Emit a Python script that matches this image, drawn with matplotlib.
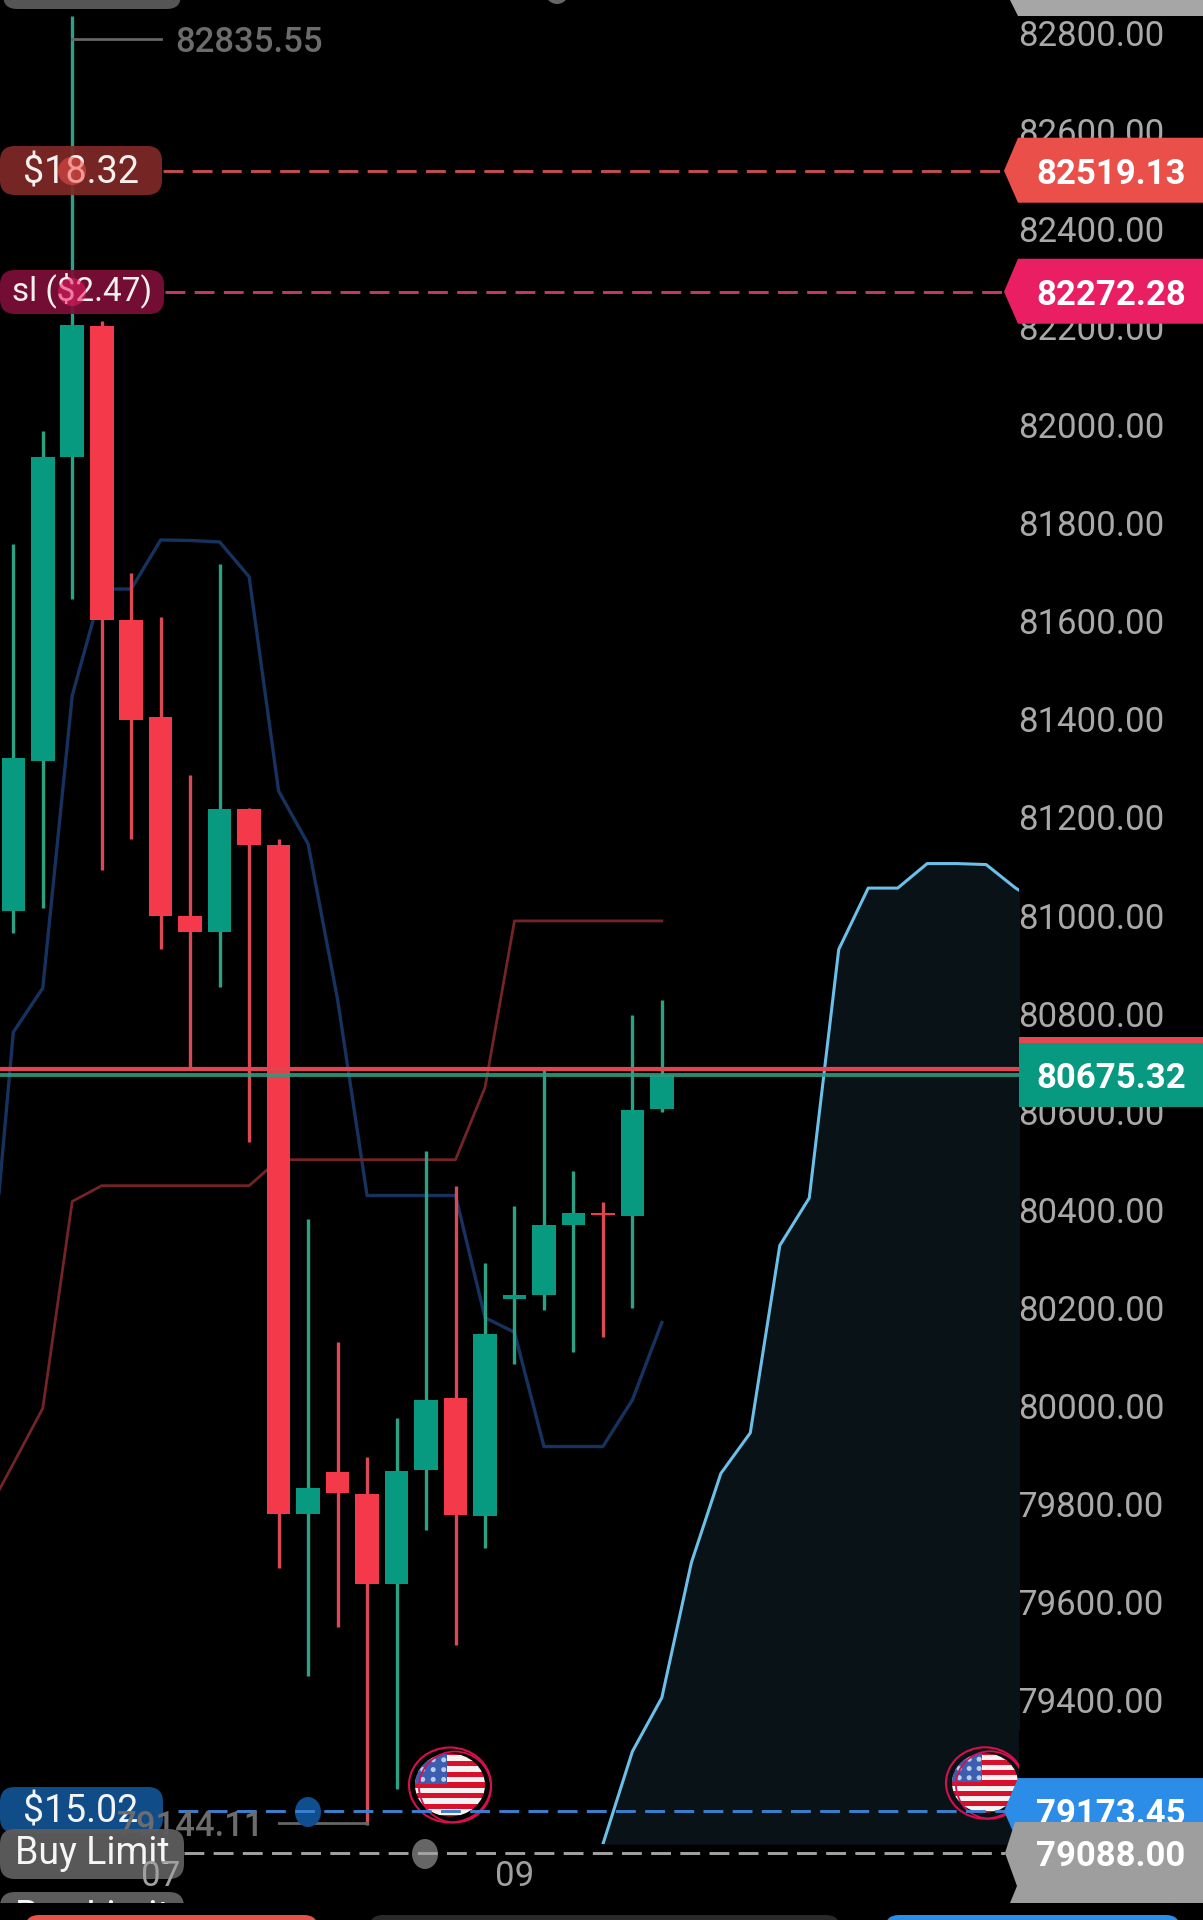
#!/usr/bin/env python3
import matplotlib
matplotlib.use('Agg')
import matplotlib.pyplot as plt
from matplotlib.patches import Ellipse, FancyBboxPatch, Polygon, Rectangle
from matplotlib.transforms import Affine2D

plt.rcParams['font.family'] = ['Roboto', 'DejaVu Sans']

W, H = 1203, 1920

### Candles
opens  = [81010, 81315, 81936, 82203, 81602, 81405, 80999, 80966, 81218, 81143, 79780, 79865,
          79820, 79637, 79870, 80015, 79775, 80218, 80227, 80369, 80393, 80387, 80605]
highs  = [81758, 81988, 82835.55, 82212, 81698, 81609, 81287, 81716, 81220, 81156, 80382, 80130,
          79895, 79975, 80519, 80449, 80292, 80407, 80692, 80478, 80416, 80798, 80827]
lows   = [80965, 81015, 81646, 81092, 81156, 80932, 80688, 80855, 80539, 79670, 79450, 79548,
          79144.11, 79218, 79747, 79513, 79710, 80085, 80195, 80110, 80140, 80200, 80599]
closes = [81321, 81936, 82205, 81602, 81399, 80999, 80966, 81218, 81143, 79780, 79832, 79822,
          79637, 79867, 80012, 79777, 80147, 80226, 80369, 80394, 80389, 80604, 80675]

### Indicator lines
band_idx   = list(range(-1, 23))
band_blue  = [80085, 80762, 80852, 81449, 81666, 81666, 81766, 81765, 81762, 81691, 81254, 81146,
              80829, 80429, 80429, 80429, 80429, 80180, 80150, 79917, 79917, 79917, 80012, 80170]
band_red   = [79770, 79882, 79995, 80417, 80449, 80449, 80449, 80449, 80449, 80449, 80502, 80502,
              80502, 80502, 80502, 80502, 80502, 80649, 80989, 80989, 80989, 80989, 80989, 80989]
cloud_idx  = list(range(20, 36))
cloud_top  = [79106, 79295, 79405, 79680, 79862, 79945, 80327, 80424, 80931, 81056, 81056, 81106,
              81106, 81104, 81056, 81020]

### Axis and levels
y_ticks    = [82800, 82600, 82400, 82200, 82000, 81800, 81600, 81400, 81200, 81000, 80800, 80600,
              80400, 80200, 80000, 79800, 79600, 79400]
x_ticks    = [5, 17]
x_labels   = ['07', '09']
tp_price   = 82519.13
sl_price   = 82272.28
bid_price  = 80675.32
ask_price  = 80687
tp2_price  = 79173.45
limit_price = 79088.00
high_price = 82835.55
low_price  = 79144.11

GREEN, RED = '#089981', '#f4394a'
GREEN_W, RED_W = '#2aa284', '#d94a55'
STEP = 29.48


fig = plt.figure(figsize=(W / 100, H / 100), dpi=100, facecolor='black')
ax = fig.add_axes([0, 0, 1, 1], facecolor='black')

# STEP px between candles, first one at x=13.3 ; 0.4903 px per price unit, 82800 at y=33
ax.set_xlim(-13.3 / STEP, (W - 13.3) / STEP)
ax.set_ylim(82800 - (H - 33) / 0.4903, 82800 + 33 / 0.4903)
ax.set_axisbelow(True)
for s in ax.spines.values():
    s.set_visible(False)

# pixel coordinates of the picture, y going down
px = Affine2D().scale(1, -1).translate(0, H)


def py(price):
    return H - ax.transData.transform((0, price))[1]


ax.yaxis.tick_right()
ax.set_yticks(y_ticks)
ax.set_yticklabels(['%.2f' % v for v in y_ticks])
ax.tick_params(axis='y', length=0, pad=-(W - 1018) * 0.72, labelcolor='#a9a9a9', labelsize=25)
for lab in ax.get_yticklabels():
    lab.set_ha('left')
ax.set_xticks([])

### Cloud
pane = Rectangle((ax.get_xlim()[0], 79106), 1019 / STEP, 4000, transform=ax.transData)
fill = ax.fill_between(cloud_idx, 79106, cloud_top, color='#091217', lw=0, zorder=1)
fill.set_clip_path(pane)
cl, = ax.plot(cloud_idx, cloud_top, color='#6cbfe8', lw=2.2, zorder=1.2)
cl.set_clip_path(pane)

### Bands
ax.plot(band_idx, band_blue, color='#16335f', lw=2.4, zorder=1.5)
ax.plot(band_idx, band_red, color='#742426', lw=2.0, zorder=1.5)

### Candles
for i in range(len(opens)):
    up = closes[i] >= opens[i]
    ax.vlines(i, lows[i], highs[i], color=GREEN_W if up else RED_W, lw=2.4, zorder=2)
    ax.bar(i, abs(closes[i] - opens[i]), bottom=min(opens[i], closes[i]), width=0.8,
           color=GREEN if up else RED, lw=0, zorder=2.1)

### Last price lines
ax.axhline(ask_price, xmax=1019 / W, color='#e0444f', lw=3.0, zorder=2.4)
ax.axhline(bid_price, xmax=1019 / W, color='#2b9b80', lw=2.8, alpha=0.9, zorder=2.4)


def flag(cx, cy, r):
    clip = Ellipse((cx, cy), 2 * r, 2 * r * 0.9, transform=px, fc='none', ec='none')
    ax.add_patch(clip)
    h = 2 * r / 13
    for k in range(13):
        st = Rectangle((cx - r, cy - r + k * h), 2 * r, h + 0.5, transform=px, lw=0, zorder=3,
                       fc='#d8102c' if k % 2 == 0 else '#f6f2f2')
        ax.add_patch(st)
        st.set_clip_path(clip)
    cant = Rectangle((cx - r, cy - r), r * 0.9, r * 0.98, transform=px, fc='#3b5fae', lw=0, zorder=3.1)
    ax.add_patch(cant)
    cant.set_clip_path(clip)
    for a in range(3):
        for b in range(3):
            dot = Ellipse((cx - r * 0.78 + a * r * 0.3, cy - r * 0.72 + b * r * 0.28), 5, 5, transform=px,
                          fc='#b9cdf0', lw=0, zorder=3.2)
            ax.add_patch(dot)
            dot.set_clip_path(clip)
    ax.add_patch(Ellipse((cx, cy), 2 * r + 12, 2 * r * 0.9 + 12, transform=px, fc='none', ec='#d6104e',
                         lw=1.5, zorder=3.3))
    ax.add_patch(Ellipse((cx + 5, cy + 2), 2 * r + 2, 2 * r * 0.9 + 8, transform=px, fc='none', ec='#d6104e',
                         lw=1.3, zorder=3.3))


flag(450, 1785, 35)
flag(985, 1783, 33)
ax.add_patch(Rectangle((1019, 1730), 184, 60, transform=px, fc='black', lw=0, zorder=3.5))


def dashed(price, x0, color):
    ax.plot([x0, 1005], [py(price), py(price)], transform=px, color=color, lw=2.1,
            dashes=(6.8, 3.2), zorder=3.6)


def tag(price, color, text):
    cy = py(price)
    ax.add_patch(Polygon([(1004, cy), (1018, cy - 33), (W, cy - 33), (W, cy + 32), (1018, cy + 32)],
                         transform=px, fc=color, lw=0, zorder=5))
    ax.text(1111, cy, text, transform=px, color='white', fontsize=25, fontweight='bold',
            ha='center', va='center_baseline', zorder=5.2)


def pill(x0, y0, x1, y1, color, zorder=4.0, alpha=1.0, radius=15):
    p = FancyBboxPatch((x0, y0), x1 - x0, y1 - y0, boxstyle='round,pad=0,rounding_size=%d' % radius,
                       transform=px, fc=color, lw=0, alpha=alpha, zorder=zorder)
    ax.add_patch(p)
    return p


### Price levels
dashed(tp_price, 163, '#c44d4f')
dashed(sl_price, 165, '#c43a62')
dashed(tp2_price, 178, '#3a80d0')
dashed(limit_price, 184, '#a2a2a2')

tag(tp_price, '#ea4f4a', '%.2f' % tp_price)
tag(sl_price, '#e91e63', '%.2f' % sl_price)

# current price tag, red one almost hidden behind the green one
ax.add_patch(Rectangle((1019, 1037), 184, 40, transform=px, fc='#e5474f', lw=0, zorder=5))
ax.add_patch(Rectangle((1019, 1043), 184, 64, transform=px, fc=GREEN, lw=0, zorder=5.1))
ax.text(1111, py(bid_price), '%.2f' % bid_price, transform=px, color='white', fontsize=25, fontweight='bold',
        ha='center', va='center_baseline', zorder=5.2)

tag(tp2_price, '#2b8de8', '%.2f' % tp2_price)
# gray one is cut by the bottom bar so it has its own shape
ly = py(limit_price)
ax.add_patch(Polygon([(1015, 1822), (W, 1822), (W, 1903), (1010, 1903), (1017, 1886), (1005, ly)],
                     transform=px, fc='#9e9e9e', lw=0, zorder=5.3))
ax.text(1111, ly, '%.2f' % limit_price, transform=px, color='white', fontsize=25, fontweight='bold',
        ha='center', va='center_baseline', zorder=5.4)

### Pills on the left
pill(0, 146, 162, 195, '#7f2a27', alpha=0.93)
ax.text(81, 173, '$18.32', transform=px, color='#f4f0ee', fontsize=27.2, ha='center', va='center', zorder=4.2)
ax.add_patch(Ellipse((72, 171), 28, 28, transform=px, fc='#f0504c', alpha=0.55, lw=0, zorder=4.3))

pill(0, 270, 164, 314, '#7d0f38', alpha=0.93)
ax.text(82, 290, 'sl ($2.47)', transform=px, color='#f4f0ee', fontsize=24, ha='center', va='center', zorder=4.2)
ax.add_patch(Ellipse((72, 292), 28, 28, transform=px, fc='#e91e63', alpha=0.55, lw=0, zorder=4.3))

pill(0, 1787, 163, 1833, '#0f4c88')
ax.text(81, 1812, '$15.02', transform=px, color='#f4f4f4', fontsize=27, ha='center', va='center', zorder=4.2)

ax.add_patch(Ellipse((308, 1812), 26, 30, transform=px, fc='#0f4f8f', lw=0, zorder=3.4))
ax.add_patch(Ellipse((425, 1854), 26, 30, transform=px, fc='#666666', lw=0, zorder=3.4))

### High and low labels
ax.plot([72, 161], [39, 39], transform=px, color='#666666', lw=2.0, zorder=3)
ax.text(175, 39, '%.2f' % high_price, transform=px, color='#6c6c6c', fontsize=25, fontweight='medium',
        ha='left', va='center_baseline', zorder=4)
ax.plot([279, 367], [1823, 1823], transform=px, color='#666666', lw=2.0, zorder=3)
ax.text(117, 1823, '%.2f' % low_price, transform=px, color='#6c6c6c', fontsize=25, fontweight='medium',
        ha='left', va='center_baseline', zorder=4.4)

pill(0, 1829, 184, 1879, '#5c5c5c', zorder=4.5, alpha=0.97)
ax.text(92, 1854, 'Buy Limit', transform=px, color='#f6f6f6', fontsize=27, ha='center', va='center', zorder=4.6)

label_y = ax.get_ylim()[0] + (H - 1873) / 0.4903
for tk, lb in zip(x_ticks, x_labels):
    ax.text(tk, label_y, lb, color='#a0a0a0', fontsize=25, ha='center', va='center_baseline', zorder=4.7)

### Bottom bar of the app, covers what is below y=1903
pill(0, 1892, 184, 1930, '#5c5c5c', zorder=4.5)
ax.text(92, 1917, 'Buy Limit', transform=px, color='#f6f6f6', fontsize=27, ha='center', va='center', zorder=4.6)
ax.add_patch(Ellipse((425, 1918), 26, 30, transform=px, fc='#666666', lw=0, zorder=3.4))
ax.add_patch(Rectangle((0, 1903), W, 20, transform=px, fc='black', lw=0, zorder=6))
pill(25, 1915, 318, 1960, '#e5534b', zorder=7, radius=14)
pill(369, 1915, 840, 1960, '#2a2a2a', zorder=7, radius=14)
pill(885, 1915, 1180, 1960, '#2b8de8', zorder=7, radius=14)

### Top of the picture, cut off too
pill(3, -40, 181, 9, '#555555', zorder=6, radius=14)
ax.add_patch(Polygon([(1010, 0), (1018, 16), (W, 16), (W, 0)], transform=px, fc='#a6a6a6', lw=0, zorder=6))
ax.add_patch(Ellipse((557, -11), 26, 30, transform=px, fc='#666666', lw=0, zorder=6))

fig.savefig('out.png', dpi=100, facecolor='black')
